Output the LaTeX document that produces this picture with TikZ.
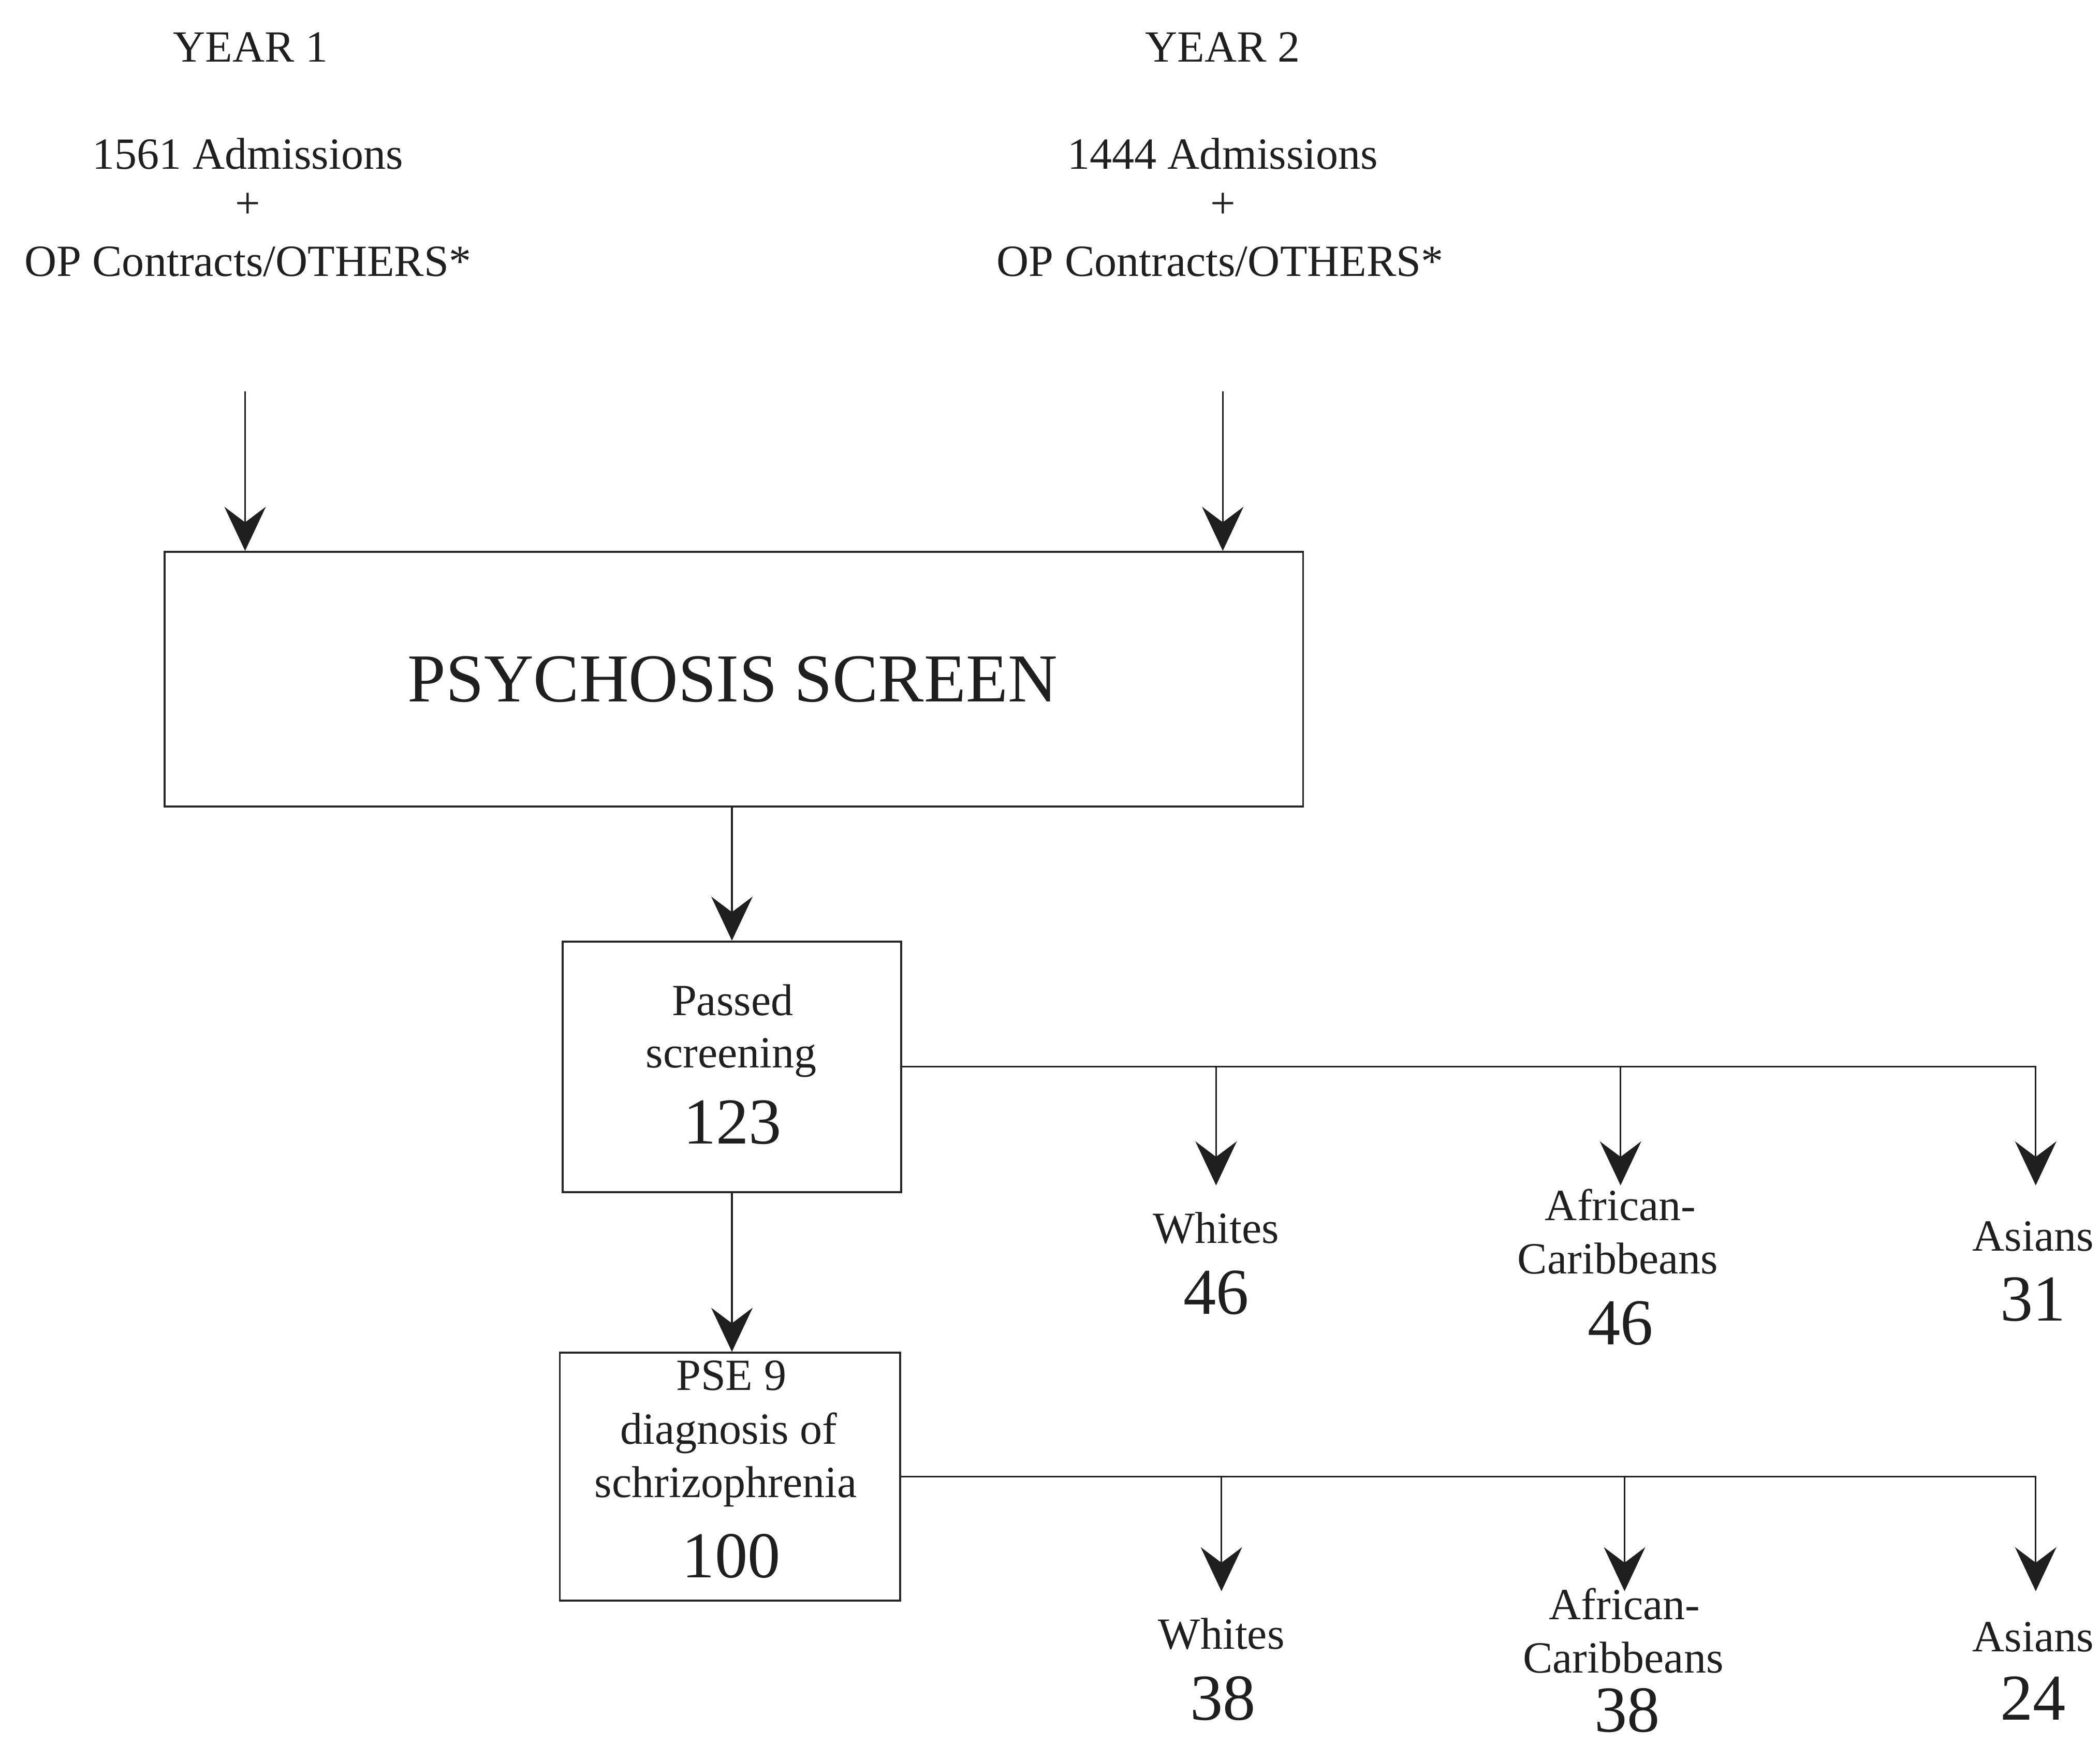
\documentclass[tikz,border=0pt]{standalone}
\usepackage{fontspec}
\setmainfont{Liberation Serif}
\usetikzlibrary{arrows.meta,fit}
\begin{document}
\begin{tikzpicture}[x=0.025874cm,y=-0.025874cm,
  boxst/.style={draw=black!85, line width=1.1pt, inner sep=0pt},
  arr/.style={draw=black!88, line width=0.9pt, -{Stealth[length=0.85cm,width=0.8cm,inset=0.3cm]}},
  txt/.style={anchor=base, inner sep=0pt, font=\fontsize{24.5}{29}\selectfont, text=black!88},
  num/.style={anchor=base, inner sep=0pt, font=\fontsize{36}{40}\selectfont, text=black!88},
  big/.style={anchor=base, inner sep=0pt, font=\fontsize{37.7}{42}\selectfont, text=black!88}]
\useasboundingbox (0,0) rectangle (1568,1302);
\fill[white] (0,0) rectangle (1568,1302);

% top texts
\node[txt] (y1) at (187,46) {YEAR 1};
\node[txt] (a1) at (185,126) {1561 Admissions};
\node[txt] (p1) at (185,163) {+};
\node[txt] (o1) at (185,206) {OP Contracts/OTHERS*};
\node[txt] (y2) at (913,46) {YEAR 2};
\node[txt] (a2) at (913,126) {1444 Admissions};
\node[txt] (p2) at (913,163) {+};
\node[txt] (o2) at (911,206) {OP Contracts/OTHERS*};

% boxes
\node[boxst, fit={(123,412) (973,602)}] (screen) {};
\node[boxst, fit={(420,703) (673,890)}] (passed) {};
\node[boxst, fit={(418,1010) (672,1195)}] (pse) {};

\node[big] (screentxt) at (547,524) {PSYCHOSIS SCREEN};
\node[txt] (ps1) at (547,758) {Passed};
\node[txt] (ps2) at (546,797) {screening};
\node[num] (ps3) at (547,854) {123};
\node[txt] (pe1) at (546,1038) {PSE 9};
\node[txt] (pe2) at (544,1078) {diagnosis of};
\node[txt] (pe3) at (542,1118) {schrizophrenia};
\node[num] (pe4) at (546,1178) {100};

% main arrows
\coordinate (s1) at (183,292);
\coordinate (s2) at (913,292);
\draw[arr] (s1) -- (s1 |- screen.north);
\draw[arr] (s2) -- (s2 |- screen.north);
\draw[arr] (passed.north |- screen.south) -- (passed.north);
\draw[arr] (passed.south) -- (passed.south |- pse.north);

% branch 1
\coordinate (w1) at (908,885);
\coordinate (c1) at (1210,885);
\coordinate (as1) at (1520,885);
\draw[arr] (passed.east) -| (as1);
\draw[arr] (passed.east -| w1) -- (w1);
\draw[arr] (passed.east -| c1) -- (c1);
\node[txt] (wl1) at (908,928) {Whites};
\node[num] (wn1) at (908,981) {46};
\node[txt] (cl1a) at (1210,911) {African-};
\node[txt] (cl1b) at (1208,951) {Caribbeans};
\node[num] (cn1) at (1210,1004) {46};
\node[txt] (al1) at (1518,934) {Asians};
\node[num] (an1) at (1518,986) {31};

% branch 2
\coordinate (w2) at (912,1188);
\coordinate (c2) at (1213,1188);
\coordinate (as2) at (1520,1188);
\draw[arr] (pse.east) -| (as2);
\draw[arr] (pse.east -| w2) -- (w2);
\draw[arr] (pse.east -| c2) -- (c2);
\node[txt] (wl2) at (912,1231) {Whites};
\node[num] (wn2) at (913,1284) {38};
\node[txt] (cl2a) at (1213,1209) {African-};
\node[txt] (cl2b) at (1212,1249) {Caribbeans};
\node[num] (cn2) at (1215,1293) {38};
\node[txt] (al2) at (1518,1233) {Asians};
\node[num] (an2) at (1518,1284) {24};
\end{tikzpicture}
\end{document}
